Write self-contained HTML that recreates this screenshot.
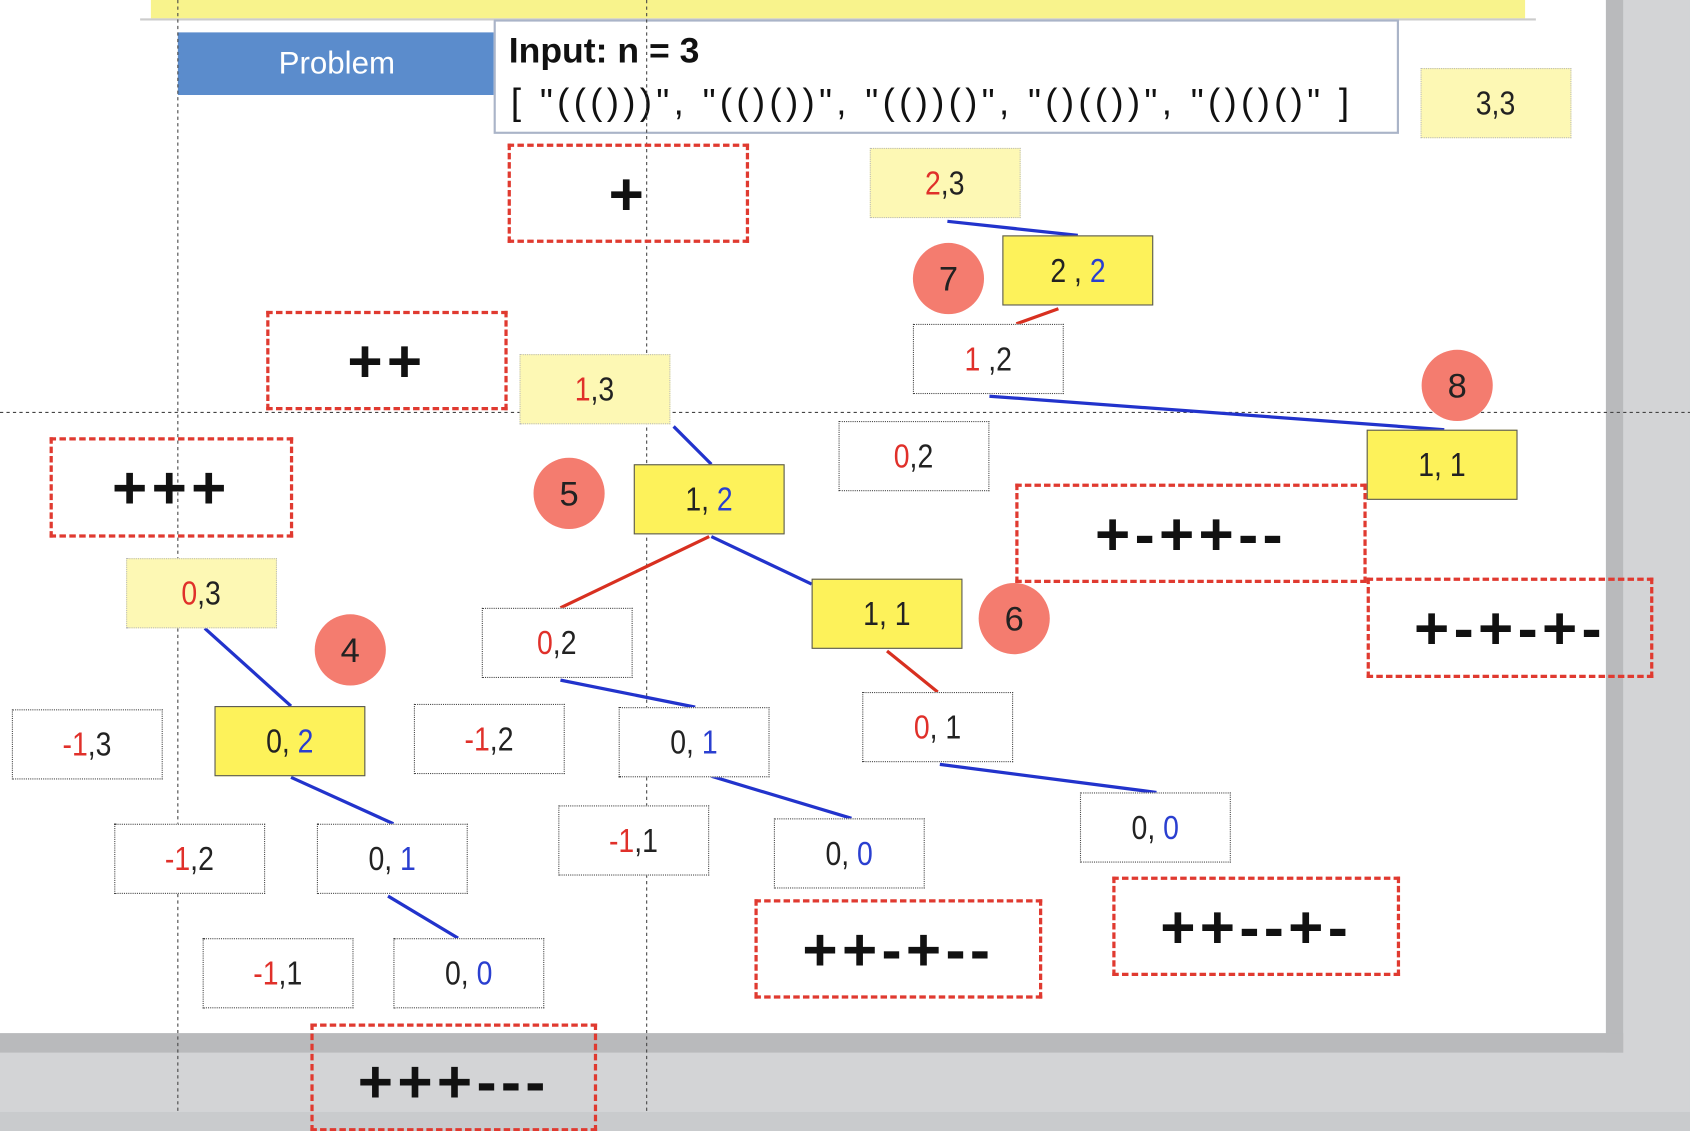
<!DOCTYPE html>
<html><head><meta charset="utf-8"><style>
html,body{margin:0;padding:0;width:1690px;height:1112px;overflow:hidden;background:#c9cbcd;}
#w{position:absolute;left:0;top:0;width:1568px;height:1030px;transform:scale(1.0778,1.0796);transform-origin:0 0;background:#d3d4d6;font-family:"Liberation Sans",sans-serif;}
.pg{position:absolute;left:0;top:0;width:1490px;height:957px;background:#fff;}
.n{position:absolute;width:140px;height:65px;border:1px dotted #444;display:flex;align-items:center;justify-content:center;font-size:31px;color:#222;background:#fff;box-sizing:border-box;}
.n span{display:inline-block;transform:scaleX(0.85);}
.ly{background:#fdf8b4;border-color:#bbb;}
.y{background:#fdf25a;border:1px solid #555;}
.r{color:#e0302a}.b{color:#2a3fd0}
.d{position:absolute;border:3px dashed #e03a30;box-sizing:border-box;display:flex;align-items:center;justify-content:center;font-size:56px;font-weight:bold;color:#111;letter-spacing:4px;}
.c{position:absolute;width:66px;height:66px;border-radius:50%;background:#f47c6f;display:flex;align-items:center;justify-content:center;font-size:32px;color:#222;}
</style></head><body><div id="w">
<div class="pg"></div>
<div style="position:absolute;left:1490px;top:0;width:16px;height:975px;background:#b9babc"></div>
<div style="position:absolute;left:0;top:957px;width:1506px;height:18px;background:#b9babc"></div>
<div style="position:absolute;left:140px;top:0;width:1275px;height:17px;background:#f8f38c"></div>
<div style="position:absolute;left:130px;top:17px;width:1295px;height:2px;background:#ccc"></div>
<div style="position:absolute;left:165px;top:30px;width:295px;height:58px;background:#5b8ccc;color:#fff;font-size:29px;display:flex;align-items:center;justify-content:center">Problem</div>
<div style="position:absolute;left:458px;top:18px;width:840px;height:106px;border:2px solid #aab4c8;box-sizing:border-box;background:#fff"></div>
<div style="position:absolute;left:472px;top:28px;font-size:33px;font-weight:bold;color:#111">Input: n = 3</div>
<div style="position:absolute;left:474px;top:76px;font-size:34px;color:#111;white-space:nowrap;letter-spacing:4px">[ "((()))", "(()())", "(())()", "()(())", "()()()" ]</div>
<svg style="position:absolute;left:0;top:0" width="1568" height="1030">
<line x1="165" y1="0" x2="165" y2="1030" stroke="#444" stroke-dasharray="3,3"/>
<line x1="600" y1="0" x2="600" y2="1030" stroke="#444" stroke-dasharray="3,3"/>
<line x1="0" y1="382" x2="1568" y2="382" stroke="#444" stroke-dasharray="3,3"/>
<g stroke-width="3">
<line x1="879" y1="205" x2="1000" y2="218" stroke="#2233cc"/>
<line x1="982" y1="286" x2="943" y2="300" stroke="#d83020"/>
<line x1="918" y1="367" x2="1340" y2="398" stroke="#2233cc"/>
<line x1="625" y1="395" x2="660" y2="430" stroke="#2233cc"/>
<line x1="658" y1="497" x2="520" y2="563" stroke="#d83020"/>
<line x1="660" y1="497" x2="753" y2="541" stroke="#2233cc"/>
<line x1="823" y1="603" x2="870" y2="641" stroke="#d83020"/>
<line x1="190" y1="582" x2="270" y2="654" stroke="#2233cc"/>
<line x1="520" y1="630" x2="645" y2="655" stroke="#2233cc"/>
<line x1="660" y1="719" x2="790" y2="758" stroke="#2233cc"/>
<line x1="872" y1="708" x2="1073" y2="734" stroke="#2233cc"/>
<line x1="270" y1="720" x2="365" y2="763" stroke="#2233cc"/>
<line x1="360" y1="830" x2="425" y2="869" stroke="#2233cc"/>
</g></svg>
<div class="n ly" style="left:1318px;top:63px"><span>3,3</span></div>
<div class="n ly" style="left:807px;top:137px"><span><i class="r" style="font-style:normal">2</i>,3</span></div>
<div class="n y" style="left:930px;top:218px"><span>2 , <b class="b" style="font-weight:normal">2</b></span></div>
<div class="n" style="left:847px;top:300px"><span><i class="r" style="font-style:normal">1</i> ,2</span></div>
<div class="n ly" style="left:482px;top:328px"><span><i class="r" style="font-style:normal">1</i>,3</span></div>
<div class="n" style="left:778px;top:390px"><span><i class="r" style="font-style:normal">0</i>,2</span></div>
<div class="n y" style="left:588px;top:430px"><span>1, <b class="b" style="font-weight:normal">2</b></span></div>
<div class="n y" style="left:1268px;top:398px"><span>1, 1</span></div>
<div class="n ly" style="left:117px;top:517px"><span><i class="r" style="font-style:normal">0</i>,3</span></div>
<div class="n" style="left:447px;top:563px"><span><i class="r" style="font-style:normal">0</i>,2</span></div>
<div class="n y" style="left:753px;top:536px"><span>1, 1</span></div>
<div class="n" style="left:11px;top:657px"><span><i class="r" style="font-style:normal">-1</i>,3</span></div>
<div class="n y" style="left:199px;top:654px"><span>0, <b class="b" style="font-weight:normal">2</b></span></div>
<div class="n" style="left:384px;top:652px"><span><i class="r" style="font-style:normal">-1</i>,2</span></div>
<div class="n" style="left:574px;top:655px"><span>0, <b class="b" style="font-weight:normal">1</b></span></div>
<div class="n" style="left:800px;top:641px"><span><i class="r" style="font-style:normal">0</i>, 1</span></div>
<div class="n" style="left:106px;top:763px"><span><i class="r" style="font-style:normal">-1</i>,2</span></div>
<div class="n" style="left:294px;top:763px"><span>0, <b class="b" style="font-weight:normal">1</b></span></div>
<div class="n" style="left:518px;top:746px"><span><i class="r" style="font-style:normal">-1</i>,1</span></div>
<div class="n" style="left:718px;top:758px"><span>0, <b class="b" style="font-weight:normal">0</b></span></div>
<div class="n" style="left:1002px;top:734px"><span>0, <b class="b" style="font-weight:normal">0</b></span></div>
<div class="n" style="left:188px;top:869px"><span><i class="r" style="font-style:normal">-1</i>,1</span></div>
<div class="n" style="left:365px;top:869px"><span>0, <b class="b" style="font-weight:normal">0</b></span></div>
<div class="d" style="left:471px;top:133px;width:224px;height:92px">+</div>
<div class="d" style="left:247px;top:288px;width:224px;height:92px">++</div>
<div class="d" style="left:46px;top:405px;width:226px;height:93px">+++</div>
<div class="d" style="left:942px;top:448px;width:326px;height:92px">+-++--</div>
<div class="d" style="left:1268px;top:535px;width:266px;height:93px">+-+-+-</div>
<div class="d" style="left:700px;top:833px;width:267px;height:92px">++-+--</div>
<div class="d" style="left:1032px;top:812px;width:267px;height:92px">++--+-</div>
<div class="d" style="left:288px;top:948px;width:266px;height:100px;align-items:flex-start;padding-top:18px">+++---</div>
<div class="c" style="left:847px;top:225px">7</div>
<div class="c" style="left:1319px;top:324px">8</div>
<div class="c" style="left:495px;top:424px">5</div>
<div class="c" style="left:908px;top:540px">6</div>
<div class="c" style="left:292px;top:569px">4</div>
</div></body></html>
